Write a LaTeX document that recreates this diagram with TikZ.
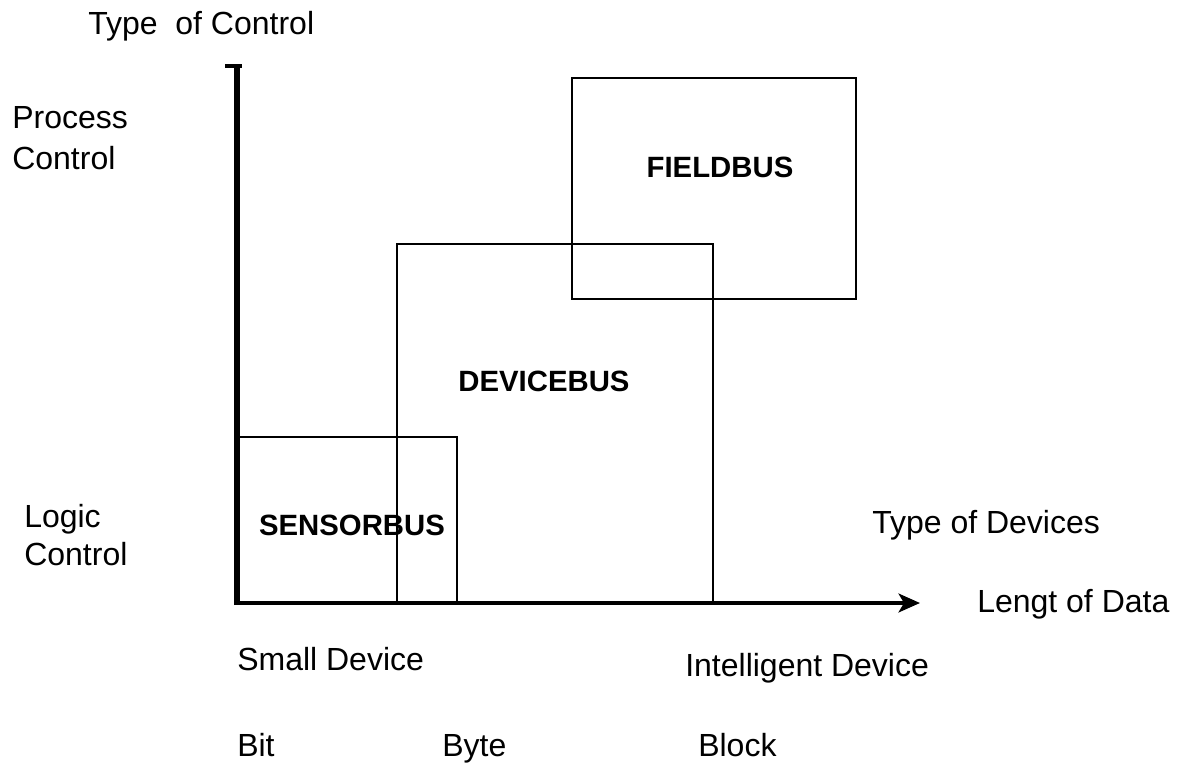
\documentclass[tikz,border=0pt]{standalone}
\usepackage{fontspec}
\setmainfont{Liberation Sans}
\usetikzlibrary{arrows.meta}
\begin{document}
\begin{tikzpicture}[x=0.75pt,y=-0.75pt,
  axisline/.style={line width=3.4pt},
  busline/.style={line width=2pt},
  caption/.style={anchor=base west,inner sep=0pt,font=\fontsize{24}{28}\selectfont},
  buslabel/.style={anchor=center,inner sep=0pt,font=\fontsize{22}{26}\selectfont\bfseries}]
\useasboundingbox (0,0) rectangle (1193,763);

% axes
\coordinate (origin) at (237,603);
\coordinate (ytop) at (237,66);
\coordinate (xend) at (920,603);
\coordinate (capl) at (225,66);
\coordinate (capr) at (242,66);
\draw[line width=5pt] ([yshift=-1.5pt]origin) -- (ytop);
\draw[line width=3pt] (capl) -- (capr);
\draw[axisline,-{Stealth[length=16pt,width=14pt,inset=4pt]}] ([xshift=-2pt]origin) -- (xend);

% bus regions
\coordinate (s-tr) at (457,437);
\coordinate (s-tl) at (237,437);
\coordinate (s-br) at (457,603);
\coordinate (d-tl) at (397,244);
\coordinate (d-br) at (713,603);
\coordinate (f-tl) at (572,78);
\coordinate (f-br) at (856,299);
\draw[busline] (s-tl) -- (s-tr) -- (s-br);
\draw[busline] (d-br) |- (d-tl) -- (d-tl |- d-br);
\draw[busline] (f-tl) rectangle (f-br);

\node[buslabel] (fieldbus) at (720,167) {FIELDBUS};
\node[buslabel] (devicebus) at (544,381) {DEVICEBUS};
\node[buslabel] (sensorbus) at (352,525) {SENSORBUS};

% axis captions
\node[caption] (typecontrol) at (88,35) {Type\ \ of Control};
\node[caption] (process) at (12,129) {Process};
\node[caption] (processctl) at (12,170) {Control};
\node[caption] (logic) at (24,527) {Logic};
\node[caption] (logicctl) at (24,565) {Control};
\node[caption] (typedevices) at (872,533) {Type of Devices};
\node[caption] (datalen) at (977,612) {Lengt of Data};
\node[caption] (small) at (237,670) {Small Device};
\node[caption] (intelligent) at (685,676) {Intelligent Device};
\node[caption] (bit) at (237,756) {Bit};
\node[caption] (byte) at (442,756) {Byte};
\node[caption] (block) at (698,756) {Block};
\end{tikzpicture}
\end{document}
